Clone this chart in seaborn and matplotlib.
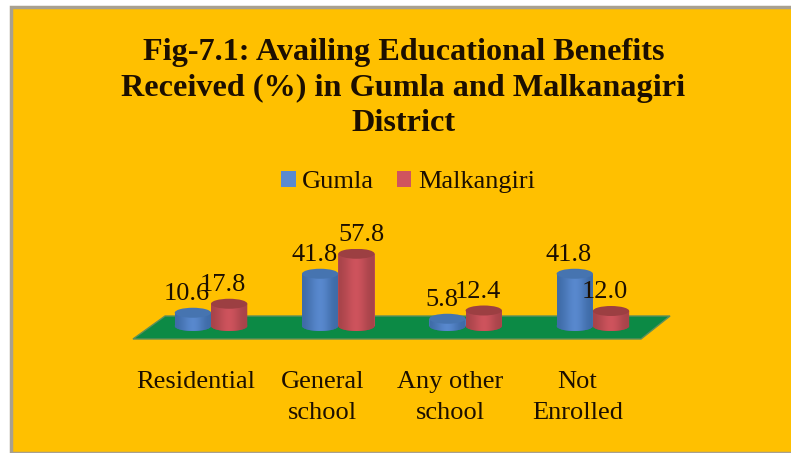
import numpy as np
import pandas as pd
import matplotlib
matplotlib.use("Agg")
import matplotlib.pyplot as plt
from matplotlib.colors import LinearSegmentedColormap
from matplotlib.patches import Ellipse, PathPatch, Polygon, Rectangle
from matplotlib.path import Path
from matplotlib.transforms import ScaledTranslation
import seaborn as sns

# Survey values (%)
categories = ["Residential", "General\nschool", "Any other\nschool", "Not\nEnrolled"]
gumla = [10.6, 41.8, 5.8, 41.8]
malkangiri = [17.8, 57.8, 12.4, 12.0]
series_names = ["Gumla", "Malkangiri"]
title_text = ("Fig-7.1: Availing Educational Benefits\n"
              "Received (%) in Gumla and Malkanagiri\nDistrict")

W, H = 791, 453
ORANGE = "#FFC000"
GREEN = "#0C8A45"
BODY = {"Gumla": ("#3F6CA8", "#5A8AD0"), "Malkangiri": ("#A8444A", "#D0545E")}
CAP = {"Gumla": "#4674B0", "Malkangiri": "#9C3F42"}
TEXT = "#1C0F00"
CAP_H = 8.0  # cap ellipse height, in value units

sns.set_theme(style="white")
plt.rcParams["font.family"] = ["Liberation Serif", "DejaVu Serif"]

fig = plt.figure(figsize=(W / 100, H / 100), dpi=100, facecolor="white")
fig.add_artist(Rectangle((11 / W, 0), 1, 1 - 7 / H, transform=fig.transFigure,
                         facecolor=ORANGE, edgecolor="#A8A090", linewidth=2.5, zorder=-1))

ax = fig.add_axes([121.9 / W, 1 - 341 / H, (682 - 121.9) / W, (341 - 248.5) / H])
ax.patch.set_alpha(0)

df = pd.DataFrame({
    "category": categories * 2,
    "percent": gumla + malkangiri,
    "district": [series_names[0]] * 4 + [series_names[1]] * 4,
})
sns.barplot(data=df, x="category", y="percent", hue="district", hue_order=series_names,
            palette={k: v[1] for k, v in BODY.items()}, width=0.57, gap=0,
            saturation=1, errorbar=None, ax=ax, zorder=3, linewidth=0)

ax.set_xlim(-0.7, 3.7)
ax.set_ylim(-12, 62)

# Floor plate the cylinders stand on
ax.add_patch(Polygon([(-0.613, -10.4), (3.378, -10.4), (3.606, 8), (-0.361, 8)],
                     closed=True, facecolor=GREEN, edgecolor="#5E8F5A", linewidth=1, zorder=1))

# Turn each bar into a shaded cylinder
ramp = np.array([0.0, 0.25, 0.55, 0.85, 1.0, 0.8, 0.45, 0.1, 0.0])[None, :]
for order, (name, container) in enumerate(zip(series_names, ax.containers)):
    cmap = LinearSegmentedColormap.from_list(name, BODY[name])
    for bar in container:
        x0, w, h = bar.get_x(), bar.get_width(), bar.get_height()
        cx = x0 + w / 2
        z = 3 + order
        bar.set_zorder(z)
        t = np.linspace(np.pi, 2 * np.pi, 40)
        arc = np.c_[cx + w / 2 * np.cos(t), CAP_H / 2 * np.sin(t)]
        outline = np.vstack([[(x0, h)], arc, [(x0 + w, h)], [(x0, h)]])
        clip = PathPatch(Path(outline), transform=ax.transData, facecolor="none", edgecolor="none")
        im = ax.imshow(ramp, cmap=cmap, extent=(x0, x0 + w, -CAP_H / 2, h), aspect="auto",
                       interpolation="bicubic", zorder=z + 0.1)
        im.set_clip_path(clip)
        ax.add_patch(Ellipse((cx, 0), w, CAP_H, facecolor=BODY[name][0], edgecolor="none",
                             zorder=z - 0.1))
        ax.add_patch(Ellipse((cx, h), w, CAP_H, facecolor=CAP[name], edgecolor="none",
                             zorder=z + 0.2))
        shift = 5 if h > 50 else -6
        ax.annotate(f"{h:.1f}", (cx, h), xytext=(shift * 0.72, 13.5), textcoords="offset points",
                    ha="center", va="center", fontsize=19, color=TEXT, zorder=10,
                    annotation_clip=False)

ax.set_xlim(-0.7, 3.7)
ax.set_ylim(-12, 62)
ax.set_xlabel("")
ax.set_ylabel("")
ax.set_yticks([])
sns.despine(ax=ax, left=True, bottom=True)
ax.tick_params(axis="x", length=0, pad=21.5)
shift_left = ScaledTranslation(-15.5 / 100, 0, fig.dpi_scale_trans)
for lab in ax.get_xticklabels():
    lab.set_fontsize(19)
    lab.set_color(TEXT)
    lab.set_linespacing(1.55)
    lab.set_transform(lab.get_transform() + shift_left)

# Legend squares above the plot
sns.move_legend(ax, "center", bbox_to_anchor=(408 / W, 1 - 182 / H),
                bbox_transform=fig.transFigure, ncol=2, frameon=False, title=None,
                fontsize=19, handlelength=0.55, handleheight=0.55, handletextpad=0.25,
                columnspacing=0.85, labelcolor=TEXT)

fig.text(403.5 / W, 1 - 88 / H, title_text, ha="center", va="center", fontsize=23.2,
         fontweight="bold", color=TEXT, linespacing=1.28)

fig.savefig("out.png", dpi=100, facecolor=fig.get_facecolor())
